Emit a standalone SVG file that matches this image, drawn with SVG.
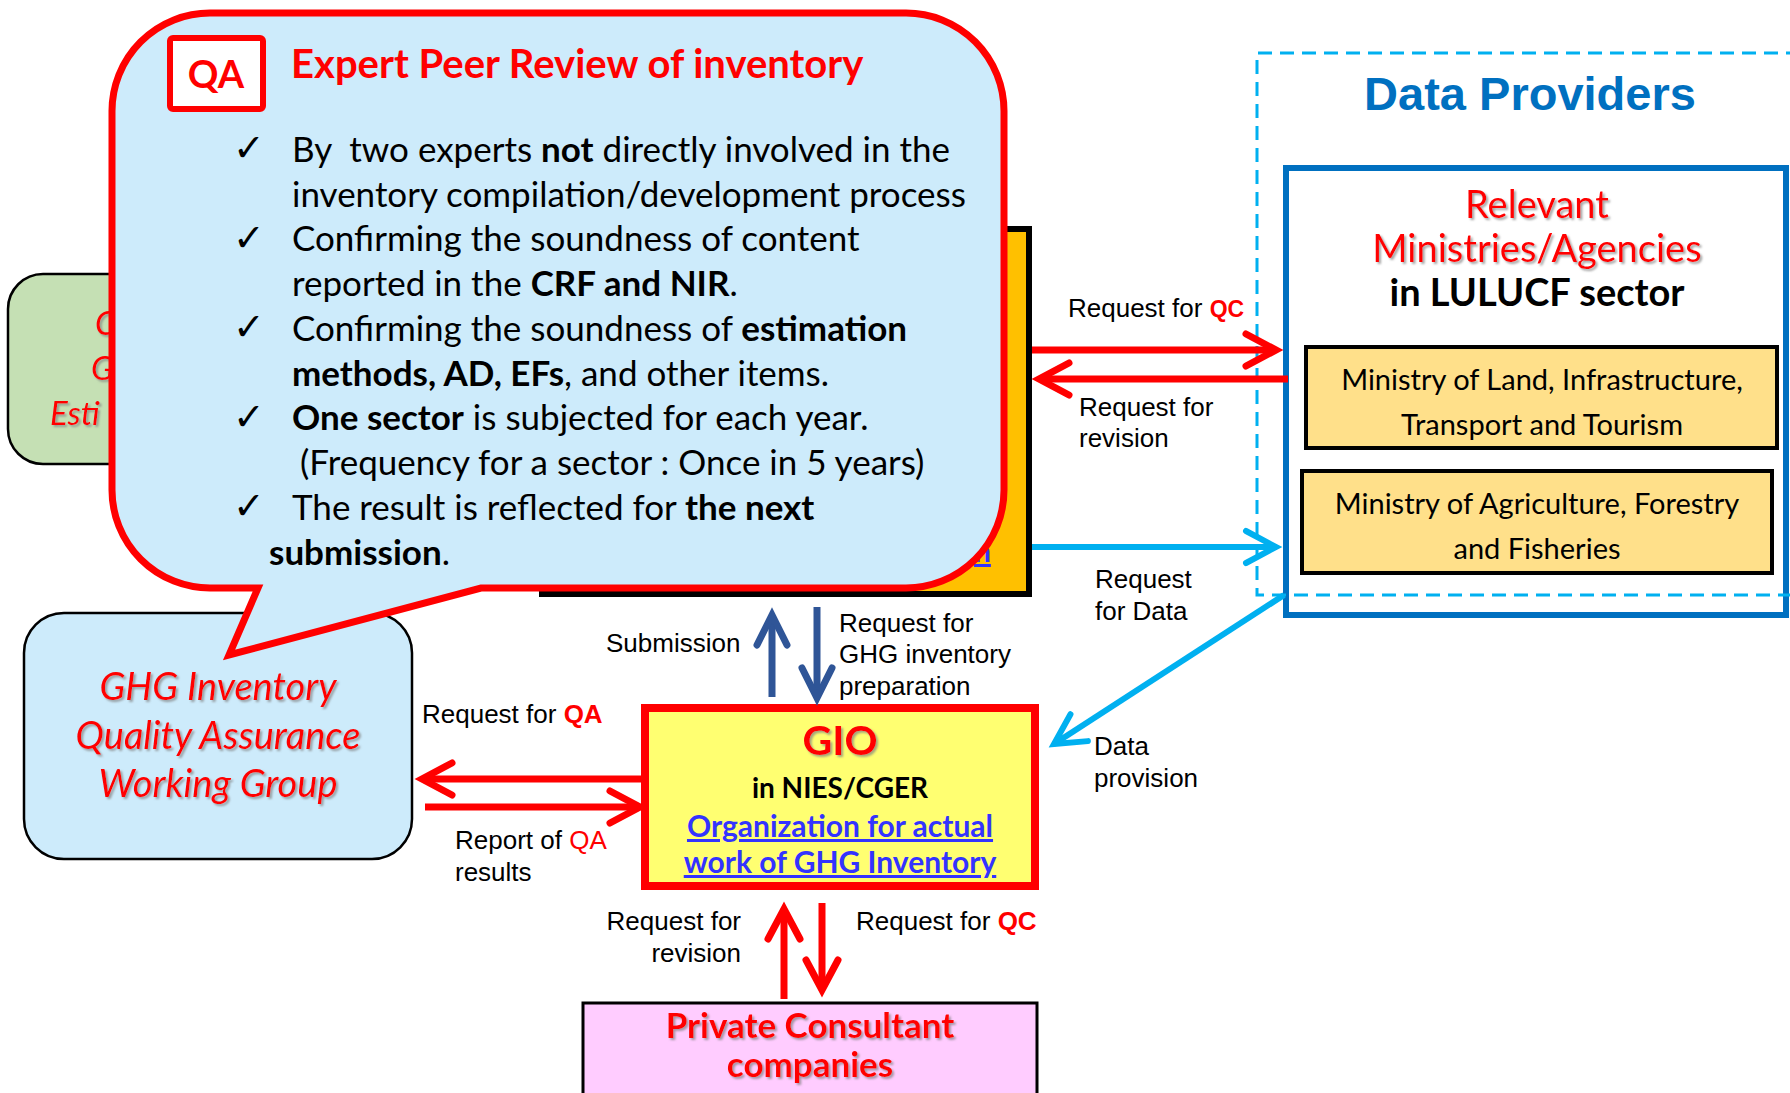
<svg xmlns="http://www.w3.org/2000/svg" width="1790" height="1093" viewBox="0 0 1790 1093">
<defs>
<style>
.cal{font-family:Lato,"Open Sans","Liberation Sans",sans-serif}
.ar{font-family:"Liberation Sans",Arial,sans-serif}
.lbl{font-family:"Liberation Sans",Arial,sans-serif;font-size:26px;fill:#000}
.body{font-family:Lato,"Open Sans","Liberation Sans",sans-serif;font-size:35px;fill:#000}
.chk{font-family:"DejaVu Sans",sans-serif;font-size:38px;fill:#000}
.b{font-weight:bold}
.rd{fill:#ff0000}
.mid{text-anchor:middle}
.sh{filter:url(#sh)}
.conn{fill:none;stroke-width:7}
.cr{stroke:#ff0000}
.cb{stroke:#2f5597}
.cc{stroke:#00b0f0;stroke-width:6}
</style>
<filter id="sh" x="-10%" y="-20%" width="125%" height="150%">
<feDropShadow dx="2" dy="2" stdDeviation="1.2" flood-color="#7f7f7f" flood-opacity="0.7"/>
</filter>
<marker id="ar-red" markerUnits="userSpaceOnUse" viewBox="-40 -24 50 48" markerWidth="50" markerHeight="48" refX="0" refY="0" orient="auto" overflow="visible">
<path d="M-30,-16 L0,0 L-30,16" fill="none" stroke="#ff0000" stroke-width="7" stroke-linecap="round"/>
</marker>
<marker id="ar-blue" markerUnits="userSpaceOnUse" viewBox="-40 -24 50 48" markerWidth="50" markerHeight="48" refX="0" refY="0" orient="auto" overflow="visible">
<path d="M-30,-15 L0,0 L-30,15" fill="none" stroke="#2f5597" stroke-width="7" stroke-linecap="round"/>
</marker>
<marker id="ar-cyan" markerUnits="userSpaceOnUse" viewBox="-40 -24 50 48" markerWidth="50" markerHeight="48" refX="0" refY="0" orient="auto" overflow="visible">
<path d="M-30,-16 L0,0 L-30,16" fill="none" stroke="#00b0f0" stroke-width="6" stroke-linecap="round"/>
</marker>
</defs>
<rect width="1790" height="1093" fill="#ffffff"/>

<g id="node-green">
<rect x="8" y="274" width="300" height="190" rx="35" fill="#c5e0b4" stroke="#000" stroke-width="2.5"/>
<g class="cal rd sh" font-style="italic" font-size="33">
<text x="95" y="335">C</text>
<text x="91" y="380">G</text>
<text x="50" y="425">Esti</text>
</g>
</g>

<g id="node-orange">
<rect x="542" y="229" width="487" height="365" fill="#ffc000" stroke="#000" stroke-width="6"/>
<text x="974" y="562" class="cal b" font-size="30" fill="#3333ff" style="text-decoration:underline">n</text>
</g>

<g id="node-qawg">
<rect x="24" y="613" width="388" height="246" rx="40" fill="#cdebfb" stroke="#000" stroke-width="2.5"/>
<g class="cal rd sh mid" font-style="italic" font-size="38">
<text x="218" y="700">GHG Inventory</text>
<text x="218" y="749">Quality Assurance</text>
<text x="218" y="797">Working Group</text>
</g>
</g>

<g id="node-bubble">
<path d="M210,13 H906 A98,98 0 0 1 1004,111 V490 A98,98 0 0 1 906,588 H481 L229,655 L258,588 H210 A98,98 0 0 1 112,490 V111 A98,98 0 0 1 210,13 Z" fill="#cdebfb" stroke="#ff0000" stroke-width="7" stroke-linejoin="miter"/>
<rect x="170" y="38" width="93" height="71" rx="3" fill="#fff" stroke="#ff0000" stroke-width="6"/>
<text x="216" y="88" class="cal b rd mid" font-size="38">QA</text>
<text x="291" y="78" class="cal b rd" font-size="40">Expert Peer Review of inventory</text>
<text class="chk" x="233" y="161">✓</text>
<text class="chk" x="233" y="251">✓</text>
<text class="chk" x="233" y="340">✓</text>
<text class="chk" x="233" y="430">✓</text>
<text class="chk" x="233" y="519">✓</text>
<text class="body" x="292" y="162">By&#160; two experts <tspan class="b">not</tspan> directly involved in the</text>
<text class="body" x="292" y="207">inventory compilation/development process</text>
<text class="body" x="292" y="251">Confirming the soundness of content</text>
<text class="body" x="292" y="296">reported in the <tspan class="b">CRF and NIR</tspan>.</text>
<text class="body" x="292" y="341">Confirming the soundness of <tspan class="b">estimation</tspan></text>
<text class="body" x="292" y="386"><tspan class="b">methods, AD, EFs</tspan>, and other items.</text>
<text class="body" x="292" y="430"><tspan class="b">One sector</tspan> is subjected for each year.</text>
<text class="body" x="300" y="475">(Frequency for a sector : Once in 5 years)</text>
<text class="body" x="292" y="520">The result is reflected for <tspan class="b">the next</tspan></text>
<text class="body b" x="269" y="565">submission<tspan font-weight="normal">.</tspan></text>
</g>

<g id="node-lulucf">
<rect x="1286" y="168" width="500" height="447" fill="#fff" stroke="#0070c0" stroke-width="6"/>
<g class="cal mid">
<text x="1537" y="218" font-size="38" class="rd sh">Relevant</text>
<text x="1537" y="262" font-size="38" class="rd sh">Ministries/Agencies</text>
<text x="1537" y="306" font-size="38" class="b">in LULUCF sector</text>
</g>
</g>

<g id="node-mlit">
<rect x="1306" y="347" width="471" height="101" fill="#ffe08a" stroke="#000" stroke-width="4"/>
<text x="1542" y="390" class="cal mid" font-size="29">Ministry of Land, Infrastructure,</text>
<text x="1542" y="435" class="cal mid" font-size="29">Transport and Tourism</text>
</g>

<g id="node-maff">
<rect x="1302" y="471" width="470" height="102" fill="#ffe08a" stroke="#000" stroke-width="4"/>
<text x="1537" y="514" class="cal mid" font-size="29">Ministry of Agriculture, Forestry</text>
<text x="1537" y="559" class="cal mid" font-size="29">and Fisheries</text>
</g>

<g id="node-dataproviders">
<path d="M1800,53 H1257 V595 H1800" fill="none" stroke="#00b0f0" stroke-width="3" stroke-dasharray="14 8"/>
<text x="1530" y="110" class="ar b mid" font-size="47" fill="#0070c0">Data Providers</text>
</g>

<g id="node-gio">
<rect x="645" y="708" width="390" height="178" fill="#ffff71" stroke="#ff0000" stroke-width="8"/>
<text x="840" y="755" class="cal b rd mid sh" font-size="41">GIO</text>
<text x="840" y="798" class="cal b mid" font-size="28">in NIES/CGER</text>
<text x="840" y="837" class="cal b mid" font-size="30" fill="#3333ff" style="text-decoration:underline">Organization for actual</text>
<text x="840" y="873" class="cal b mid" font-size="30" fill="#3333ff" style="text-decoration:underline">work of GHG Inventory</text>
</g>

<g id="node-private">
<rect x="583" y="1003" width="454" height="100" fill="#ffccff" stroke="#000" stroke-width="3"/>
<text x="810" y="1038" class="cal b rd mid sh" font-size="35">Private Consultant</text>
<text x="810" y="1077" class="cal b rd mid sh" font-size="35">companies</text>
</g>

<g id="connectors">
<line class="conn cr" x1="1032" y1="350" x2="1276" y2="350" marker-end="url(#ar-red)"/>
<line class="conn cr" x1="1288" y1="379" x2="1039" y2="379" marker-end="url(#ar-red)"/>
<line class="conn cc" x1="1032" y1="547" x2="1276" y2="547" marker-end="url(#ar-cyan)"/>
<line class="conn cc" x1="1284" y1="595" x2="1054" y2="744" marker-end="url(#ar-cyan)"/>
<line class="conn cb" x1="772" y1="697" x2="772" y2="615" marker-end="url(#ar-blue)"/>
<line class="conn cb" x1="817" y1="607" x2="817" y2="698" marker-end="url(#ar-blue)"/>
<line class="conn cr" x1="641" y1="779" x2="422" y2="779" marker-end="url(#ar-red)"/>
<line class="conn cr" x1="425" y1="807" x2="640" y2="807" marker-end="url(#ar-red)"/>
<line class="conn cr" x1="784" y1="999" x2="784" y2="909" marker-end="url(#ar-red)"/>
<line class="conn cr" x1="822" y1="903" x2="822" y2="990" marker-end="url(#ar-red)"/>
</g>

<g id="labels">
<text class="lbl" x="1068" y="317" font-size="24">Request for <tspan class="b rd" font-size="23">QC</tspan></text>
<text class="lbl" x="1079" y="416" font-size="24">Request for</text>
<text class="lbl" x="1079" y="447" font-size="24">revision</text>
<text class="lbl" x="1095" y="588">Request</text>
<text class="lbl" x="1095" y="620">for Data</text>
<text class="lbl" x="1094" y="755">Data</text>
<text class="lbl" x="1094" y="787">provision</text>
<text class="lbl" x="606" y="652">Submission</text>
<text class="lbl" x="839" y="632">Request for</text>
<text class="lbl" x="839" y="663">GHG inventory</text>
<text class="lbl" x="839" y="695">preparation</text>
<text class="lbl" x="422" y="723">Request for <tspan class="b rd">QA</tspan></text>
<text class="lbl" x="455" y="849">Report of <tspan class="rd">QA</tspan></text>
<text class="lbl" x="455" y="881">results</text>
<text class="lbl" x="741" y="930" text-anchor="end">Request for</text>
<text class="lbl" x="741" y="962" text-anchor="end">revision</text>
<text class="lbl" x="856" y="930">Request for <tspan class="b rd">QC</tspan></text>
</g>
</svg>
